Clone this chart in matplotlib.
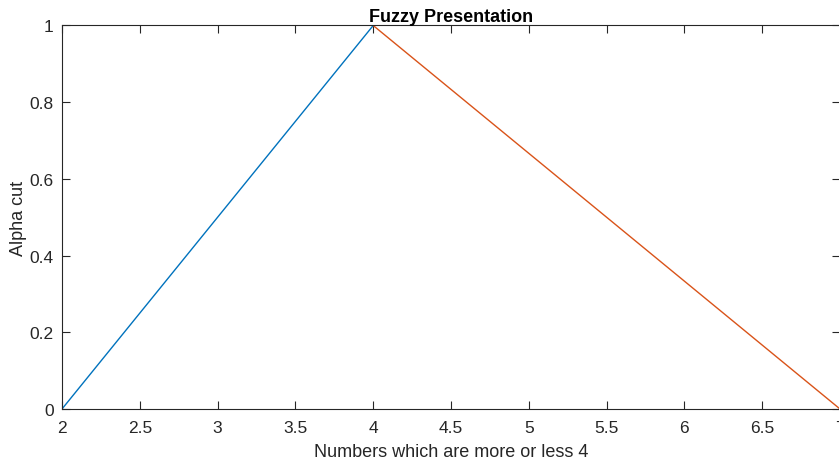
import matplotlib
matplotlib.use('Agg')
import matplotlib.pyplot as plt

plt.rcParams['font.family'] = ['Liberation Sans', 'DejaVu Sans']

# rising and falling edge of the triangular fuzzy number "about 4"
rise_x = [2, 4]
rise_y = [0, 1]
fall_x = [4, 7]
fall_y = [1, 0]

xticks = [2, 2.5, 3, 3.5, 4, 4.5, 5, 5.5, 6, 6.5, 7]
yticks = [0, 0.2, 0.4, 0.6, 0.8, 1]

fig = plt.figure(figsize=(8.39, 4.64), dpi=100)
ax = fig.add_axes([0.0739, 0.1164, 0.9273, 0.8265])

ax.plot(rise_x, rise_y, color='#0072BD', lw=1.0)
ax.plot(fall_x, fall_y, color='#D95319', lw=1.0)

ax.set_xlim(2, 7)
ax.set_ylim(0, 1)
ax.set_xticks(xticks)
ax.set_xticklabels([('%g' % t) for t in xticks])
ax.set_yticks(yticks)
ax.set_yticklabels([('%g' % t) for t in yticks])

for s in ax.spines.values():
    s.set_color('#262626')
    s.set_linewidth(0.8)
ax.tick_params(direction='in', length=5.6, width=0.8, colors='#262626',
               labelsize=12.5, top=True, right=True)
ax.tick_params(axis='x', pad=8)
ax.tick_params(axis='y', pad=6)

ax.set_title('Fuzzy Presentation', fontsize=13, fontweight='bold', pad=3)
ax.set_xlabel('Numbers which are more or less 4', fontsize=13, color='#262626', labelpad=6)
ax.set_ylabel('Alpha cut', fontsize=13, color='#262626', labelpad=2)

fig.savefig('out.png', dpi=100)
